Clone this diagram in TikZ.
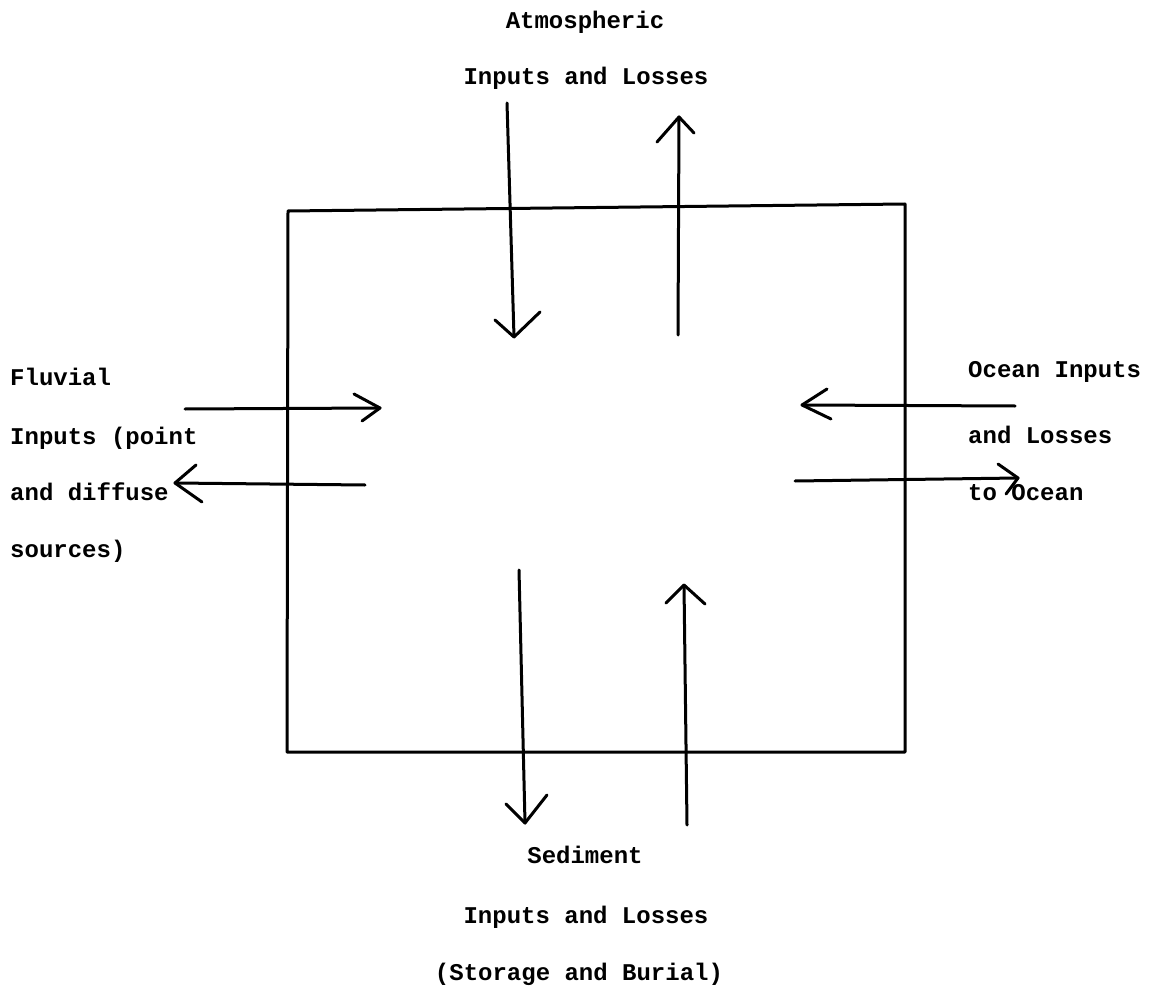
\documentclass[tikz,border=0pt]{standalone}
\usepackage{fontspec}
\setmonofont{Liberation Mono}
\begin{document}
\begin{tikzpicture}[x=1pt,y=-1pt,
  line/.style={line width=3pt,line cap=round,line join=round},
  lbl/.style={inner sep=0pt,anchor=base,font=\fontsize{24}{24}\selectfont\ttfamily\bfseries},
  lblw/.style={lbl,anchor=base west}]
\useasboundingbox (0,0) rectangle (1156,992);
% box
\coordinate (TL) at (288,211);
\coordinate (TR) at (905,204);
\coordinate (BR) at (905,752);
\coordinate (BL) at (287,752);
\draw[line] (TL) -- (TR) -- (BR) -- (BL) -- cycle;
% labels
\node[lbl] (atm1) at (585,29) {Atmospheric};
\node[lbl] (atm2) at (586,85) {Inputs and Losses};
\node[lblw] (fl1) at (10,385) {Fluvial};
\node[lblw] (fl2) at (10,444) {Inputs (point};
\node[lblw] (fl3) at (10,500) {and diffuse};
\node[lblw] (fl4) at (10,557) {sources)};
\node[lblw] (oc1) at (968,377) {Ocean Inputs};
\node[lblw] (oc2) at (968,443) {and Losses};
\node[lblw] (oc3) at (968,500) {to Ocean};
\node[lbl] (sd1) at (585,863) {Sediment};
\node[lbl] (sd2) at (586,923) {Inputs and Losses};
\node[lbl] (sd3) at (579,980) {(Storage and Burial)};
% atmospheric down arrow
\coordinate (a1t) at (507,103); \coordinate (a1h) at (514,337);
\coordinate (a1l) at (495,320); \coordinate (a1r) at (540,312);
\draw[line] (a1t) -- (a1h); \draw[line] (a1l) -- (a1h) -- (a1r);
% atmospheric up arrow
\coordinate (a2t) at (678,335); \coordinate (a2h) at (679,117);
\coordinate (a2l) at (657,142); \coordinate (a2r) at (694,133);
\draw[line] (a2t) -- (a2h); \draw[line] (a2l) -- (a2h) -- (a2r);
% fluvial in
\coordinate (f1t) at (185,409); \coordinate (f1h) at (380,408);
\coordinate (f1u) at (354,394); \coordinate (f1d) at (362,421);
\draw[line] (f1t) -- (f1h); \draw[line] (f1u) -- (f1h) -- (f1d);
% fluvial out
\coordinate (f2t) at (365,485); \coordinate (f2h) at (175,483);
\coordinate (f2u) at (196,465); \coordinate (f2d) at (202,502);
\draw[line] (f2t) -- (f2h); \draw[line] (f2u) -- (f2h) -- (f2d);
% ocean in
\coordinate (o1t) at (1015,406); \coordinate (o1h) at (802,405);
\coordinate (o1u) at (827,389); \coordinate (o1d) at (831,419);
\draw[line] (o1t) -- (o1h); \draw[line] (o1u) -- (o1h) -- (o1d);
% ocean out
\coordinate (o2t) at (795,481); \coordinate (o2h) at (1018,478);
\coordinate (o2u) at (998,464); \coordinate (o2d) at (1006,494);
\draw[line] (o2t) -- (o2h); \draw[line] (o2u) -- (o2h) -- (o2d);
% sediment down
\coordinate (s1t) at (519,570); \coordinate (s1h) at (525,823);
\coordinate (s1l) at (506,804); \coordinate (s1r) at (547,795);
\draw[line] (s1t) -- (s1h); \draw[line] (s1l) -- (s1h) -- (s1r);
% sediment up
\coordinate (s2t) at (687,825); \coordinate (s2h) at (684,585);
\coordinate (s2l) at (666,603); \coordinate (s2r) at (705,604);
\draw[line] (s2t) -- (s2h); \draw[line] (s2l) -- (s2h) -- (s2r);
\end{tikzpicture}
\end{document}
